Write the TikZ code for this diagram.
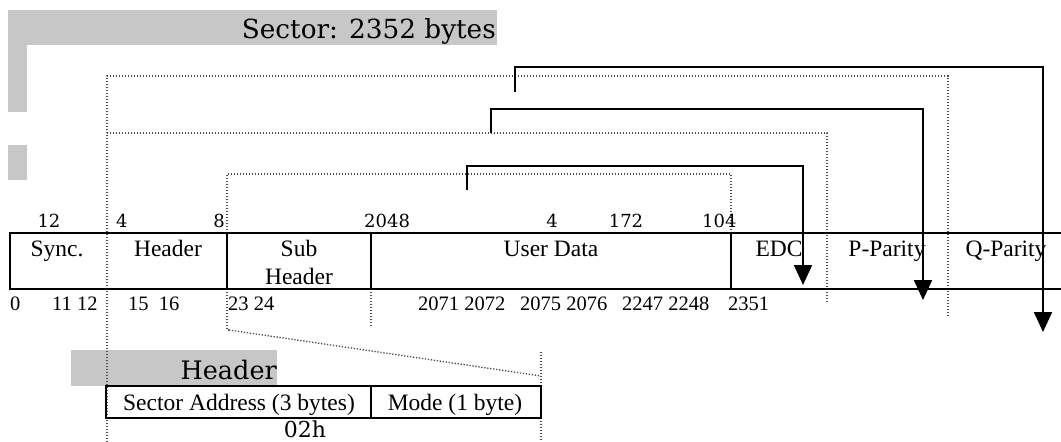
\documentclass[tikz,border=0pt]{standalone}
\usepackage{fontspec}
\setmainfont{Liberation Serif}
\newfontfamily\centfont{DejaVu Serif}
\usetikzlibrary{arrows.meta}

\tikzset{
  boxline/.style={line width=2pt},
  guide/.style={line width=1.3pt, black!70, dash pattern=on 1.3pt off 1.7pt},
  shade/.style={fill=black!22, draw=none},
  parityarrow/.style={line width=2pt, -{Triangle[width=18pt,length=20pt]}},
  fieldtext/.style={font=\fontsize{23.5}{27}\selectfont, anchor=base, inner sep=0pt},
  sizetext/.style={font=\centfont\fontsize{18}{20}\selectfont, anchor=base, inner sep=0pt},
  offsettext/.style={font=\fontsize{20.5}{22}\selectfont, anchor=base west, inner sep=0pt}
}

\begin{document}
\begin{tikzpicture}[x=1pt,y=-1pt]

    \useasboundingbox (0,0) rectangle (1061,442);

    %% Sector layout

    % Shaded bands
    \fill[shade] (8,10) rectangle (497,45);
    \fill[shade] (8,45) rectangle (27,112);
    \fill[shade] (8,145) rectangle (27,180);
    \fill[shade] (71,350) rectangle (277,386);

    % Title
    \node[font=\centfont\fontsize{26.3}{30}\selectfont, anchor=base east, inner sep=0pt] (title) at (496,38) {Sector: 2352 bytes};

    % Guide lines
    \draw[guide] (107,442) -- (107,76) -- (948,76) -- (948,317);
    \draw[guide] (107,133) -- (827,133) -- (827,302);
    \draw[guide] (229,330) -- (227,330) -- (227,174) -- (731,174) -- (731,233);
    \draw[guide] (371,289) -- (371,327);
    \draw[guide] (229,330) -- (541,376);
    \draw[guide] (541,352) -- (541,442);

    % Sector box
    \draw[boxline] (1061,233) -- (10,233) -- (10,289) -- (1061,289);
    \draw[boxline] (227,233) -- (227,289);
    \draw[boxline] (371,233) -- (371,289);
    \draw[boxline] (731,233) -- (731,289);

    % Field names
    \node[fieldtext] (sync) at (57,256) {Sync.};
    \node[fieldtext] (header) at (168,256) {Header};
    \node[fieldtext] (sub) at (299,256) {Sub};
    \node[fieldtext] (subheader) at (299,284) {Header};
    \node[fieldtext] (userdata) at (551,256) {User Data};
    \node[fieldtext] (edc) at (779,256) {EDC};
    \node[fieldtext] (pparity) at (887,256) {P-Parity};
    \node[fieldtext] (qparity) at (1006,256) {Q-Parity};

    % Field sizes
    \node[sizetext] (syncsize) at (49,227) {12};
    \node[sizetext, anchor=base west] (headersize) at (116,227) {4};
    \node[sizetext, anchor=base east] (subsize) at (225,227) {8};
    \node[sizetext, anchor=base west] (usersize) at (364,227) {2048};
    \node[sizetext] (edcsize) at (552,227) {4};
    \node[sizetext] (psize) at (626,227) {172};
    \node[sizetext, anchor=base west] (qsize) at (702,227) {104};

    % Byte offsets
    \node[offsettext] (off0) at (10,310) {0};
    \node[offsettext] (off11) at (52,310) {11 12};
    \node[offsettext] (off15) at (128,310) {15\ \ 16};
    \node[offsettext] (off23) at (228,310) {23 24};
    \node[offsettext] (off2071) at (418,310) {2071 2072};
    \node[offsettext] (off2075) at (520,310) {2075 2076};
    \node[offsettext] (off2247) at (622,310) {2247 2248};
    \node[offsettext] (off2351) at (728,310) {2351};

    % Parity arrows
    \coordinate (edchook) at (467,190);
    \coordinate (edcturn) at (803,166);
    \coordinate (edctip) at (803,285);
    \draw[parityarrow] (edchook) |- (edcturn) -- (edctip);
    \coordinate (phook) at (491,133);
    \coordinate (pturn) at (923,109);
    \coordinate (ptip) at (923,300);
    \draw[parityarrow] (phook) |- (pturn) -- (ptip);
    \coordinate (qhook) at (515,92);
    \coordinate (qturn) at (1043,67);
    \coordinate (qtip) at (1043,332);
    \draw[parityarrow] (qhook) |- (qturn) -- (qtip);

    %% Header detail
    \node[font=\centfont\fontsize{25.5}{29}\selectfont, anchor=base east, inner sep=0pt] (headertitle) at (277,379) {Header};
    \draw[boxline] (106,386) rectangle (541,418);
    \draw[boxline] (371,386) -- (371,418);
    \node[fieldtext] (address) at (239,410) {Sector Address (3 bytes)};
    \node[fieldtext] (mode) at (455,410) {Mode (1 byte)};
    \node[font=\centfont\fontsize{22}{26}\selectfont, anchor=base, inner sep=0pt] (modevalue) at (305,437) {02h};

\end{tikzpicture}
\end{document}
